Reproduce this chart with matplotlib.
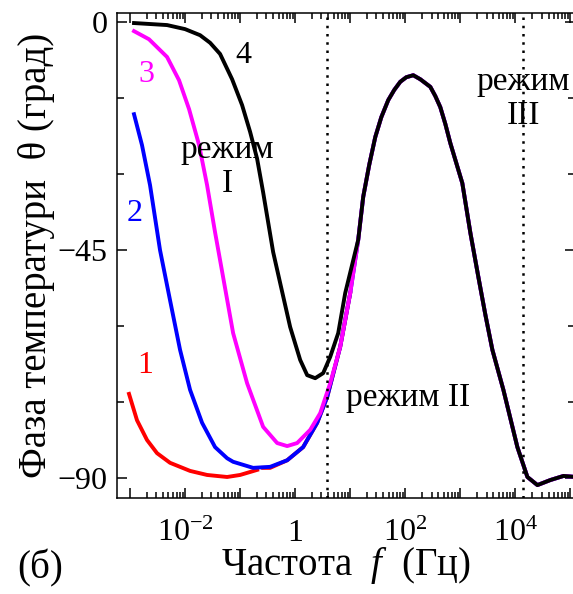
import numpy as np
import matplotlib.pyplot as plt
from matplotlib.ticker import FixedLocator, NullFormatter

plt.rcParams['font.family'] = ['Liberation Serif', 'DejaVu Serif']
plt.rcParams['mathtext.fontset'] = 'custom'
plt.rcParams['mathtext.rm'] = 'Liberation Serif'
plt.rcParams['mathtext.it'] = 'Liberation Serif:italic'

# log10 of frequency (Hz) and phase (deg)
# common part of all four curves (after they merge)
lg_tail = [1.145, 1.236, 1.345, 1.455, 1.564, 1.691, 1.800, 1.909, 2.018, 2.145,
           2.273, 2.455, 2.545, 2.636, 2.727, 2.818, 3.036, 3.182, 3.327, 3.455,
           3.582, 3.782, 4.036, 4.218, 4.400, 4.636, 4.873, 5.10]
th_tail = [-43.0, -34.5, -28.2, -22.7, -18.8, -15.4, -13.4, -11.8, -10.9, -10.5,
           -11.3, -12.8, -14.6, -16.8, -20.1, -23.9, -31.8, -41.6, -50.3, -57.8,
           -64.7, -72.6, -83.9, -89.8, -91.4, -90.4, -89.6, -89.8]

# curve 4 (black)
lg4 = [-2.927, -2.327, -2.0, -1.727, -1.545, -1.364, -1.145, -0.964, -0.818, -0.691,
       -0.582, -0.400, -0.273, -0.091, 0.091, 0.218, 0.364, 0.509, 0.636, 0.782,
       0.909, 1.055]
th4 = [-0.2, -0.6, -1.4, -2.6, -4.1, -6.3, -11.3, -16.4, -21.7, -27.0,
       -33.6, -45.4, -51.5, -60.2, -66.7, -69.7, -70.3, -69.3, -66.1, -61.4,
       -53.5, -47.0]

# curve 3 (magenta)
lg3 = [-2.927, -2.655, -2.327, -2.109, -1.927, -1.745, -1.600, -1.455, -1.364, -1.127,
       -0.873, -0.582, -0.327, -0.145, 0.036, 0.273, 0.455, 0.636, 0.818, 1.0]
th3 = [-1.8, -3.4, -6.9, -11.5, -17.2, -24.3, -32.2, -41.5, -47.0, -61.4,
       -71.3, -79.9, -83.1, -83.7, -83.1, -80.5, -77.2, -71.3, -64.1, -53.5]

# curve 2 (blue)
lg2 = [-2.927, -2.782, -2.636, -2.455, -2.273, -2.091, -1.909, -1.691, -1.455, -1.236,
       -1.127, -0.764, -0.455, -0.145, 0.145, 0.400, 0.582, 0.818, 1.0]
th2 = [-18.2, -24.3, -32.2, -45.0, -54.9, -64.7, -72.6, -79.1, -83.9, -86.1,
       -86.8, -88.0, -87.8, -86.5, -83.9, -79.1, -74.0, -64.1, -53.5]

# curve 1 (red), drawn in two pieces (small gap near 0.2 Hz)
lg1a = [-3.018, -2.873, -2.691, -2.509, -2.273, -1.909, -1.600, -1.236, -1.0, -0.691]
th1a = [-73.4, -78.6, -82.5, -85.1, -87.0, -88.6, -89.4, -89.8, -89.4, -88.4]
lg1b = [-0.582, -0.455, -0.145, 0.145, 0.400, 0.582, 0.818, 1.0]
th1b = [-88.0, -88.0, -86.5, -83.9, -79.1, -74.0, -64.1, -53.5]

# regime borders (Hz)
borders = [3.8, 1.4e4]

xticks = [1e-2, 1, 1e2, 1e4]
xticklabels = [r'$10^{-2}$', '1', r'$10^{2}$', r'$10^{4}$']
yticks = [0, -45, -90]
yticklabels = ['0', '\u221245', '\u221290']


def freq(lg):
    return 10.0 ** np.array(lg)


fig = plt.figure(figsize=(5.73, 5.94), dpi=100)
ax = fig.add_axes([0.2042, 0.1616, 0.80, 0.8165])

lw = 2.8
ax.plot(freq(lg1a), th1a, color='#ff0000', lw=lw)
ax.plot(freq(lg1b), th1b, color='#ff0000', lw=lw)
ax.plot(freq(lg2 + lg_tail), th2 + th_tail, color='#0000ff', lw=lw)
ax.plot(freq(lg3 + lg_tail), th3 + th_tail, color='#ff00ff', lw=lw)
ax.plot(freq(lg4 + lg_tail), th4 + th_tail, color='black', lw=lw)

for b in borders:
    ax.axvline(b, color='black', lw=1.8, linestyle=(0, (1, 2.3)))

ax.set_xscale('log')
ax.set_xlim(10 ** -3.236, 10 ** 5.09)
ax.set_ylim(-93.95, 1.78)

decades = [10.0 ** k for k in range(-3, 6)]
minors = [m * d for d in decades for m in range(2, 10)]
ax.xaxis.set_major_locator(FixedLocator(decades))
ax.xaxis.set_minor_locator(FixedLocator(minors))
ax.set_xticklabels(['' if d not in xticks else xticklabels[xticks.index(d)] for d in decades])
ax.xaxis.set_minor_formatter(NullFormatter())
ax.set_yticks(yticks)
ax.set_yticklabels(yticklabels)
ax.yaxis.set_minor_locator(FixedLocator([-15, -30, -60, -75]))

ax.tick_params(which='both', direction='in', top=True, right=True, labelsize=23, width=1.1)
ax.tick_params(axis='x', which='major', length=7, pad=15)
ax.tick_params(axis='x', which='minor', length=4)
ax.tick_params(axis='y', which='major', length=7, pad=7)
ax.tick_params(axis='y', which='minor', length=5)
for s in ax.spines.values():
    s.set_linewidth(1.1)

ax.set_xlabel(r'Частота  $\mathit{f}$  (Гц)', fontsize=28, labelpad=-2)
ax.set_ylabel('Фаза температури  θ (град)', fontsize=28, labelpad=2)

ax.text(10 ** -0.945, -6.6, '4', fontsize=23, color='black', ha='center', va='center')
ax.text(10 ** -2.709, -10.3, '3', fontsize=23, color='#ff00ff', ha='center', va='center')
ax.text(10 ** -2.909, -37.7, '2', fontsize=23, color='#0000ff', ha='center', va='center')
ax.text(10 ** -2.727, -67.7, '1', fontsize=23, color='#ff0000', ha='center', va='center')
ax.text(10 ** -1.236, -28.6, 'режим\nI', fontsize=24, ha='center', va='center', linespacing=1.15)
ax.text(10 ** 2.045, -74.2, 'режим II', fontsize=24, ha='center', va='center')
ax.text(10 ** 4.145, -15.2, 'режим\nIII', fontsize=24, ha='center', va='center', linespacing=1.15)

fig.text(40 / 573, 1 - 568 / 594, '(б)', fontsize=28, ha='center', va='center')

fig.savefig('out.png', dpi=100)
